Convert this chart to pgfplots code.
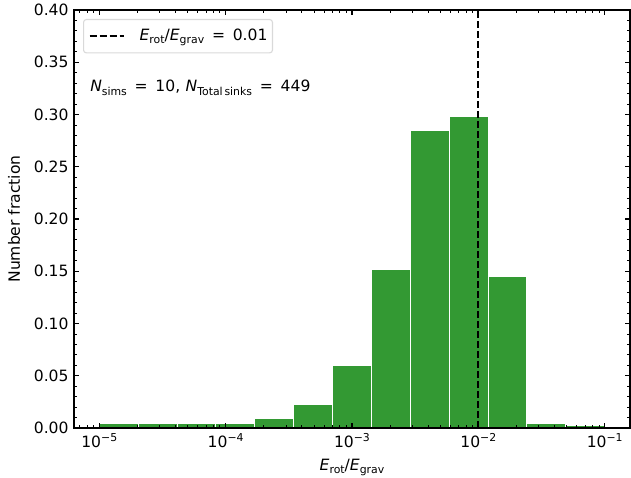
\documentclass[border=0pt]{standalone}
\usepackage{fontspec}
\setmainfont{DejaVu Sans}
\usepackage{pgfplots}
\pgfplotsset{compat=1.18}
\definecolor{barg}{RGB}{51,153,51}
\newcommand{\myfont}{\fontsize{11.2}{13.4}\selectfont}
\newcommand{\sub}[1]{\raisebox{-2.3pt}{\fontsize{7.84}{8}\selectfont #1}}
\newcommand{\sups}[1]{\raisebox{4.6pt}{\fontsize{7.84}{8}\selectfont #1}}
\newcommand{\eq}{\hspace{0.5em}=\hspace{0.5em}}
\pgfplotstableread{
x y
1.0e-5 0.004454
2.0309e-5 0.004454
4.1246e-5 0.004454
8.3768e-5 0.004454
1.7013e-4 0.008909
3.4551e-4 0.022272
7.0170e-4 0.060134
1.4251e-3 0.151448
2.8943e-3 0.285078
5.8780e-3 0.298441
1.1938e-2 0.144766
2.4245e-2 0.004454
4.9239e-2 0.002227
1.0e-1 0.002227
}\histdata
\begin{document}
\myfont
\begin{tikzpicture}
\begin{axis}[
  scale only axis, width=400.32pt, height=300.96pt,
  xmode=log, xmin=6.3096e-6, xmax=0.15849,
  ymin=0, ymax=0.4,
  axis on top,
  xtick={1e-5,1e-4,1e-3,1e-2,1e-1},
  xticklabels={10\sups{−5},10\sups{−4},10\sups{−3},10\sups{−2},10\sups{−1}},
  minor xtick={7e-6,8e-6,9e-6,2e-5,3e-5,4e-5,5e-5,6e-5,7e-5,8e-5,9e-5,2e-4,3e-4,4e-4,5e-4,6e-4,7e-4,8e-4,9e-4,2e-3,3e-3,4e-3,5e-3,6e-3,7e-3,8e-3,9e-3,2e-2,3e-2,4e-2,5e-2,6e-2,7e-2,8e-2,9e-2},
  ytick={0,0.05,0.1,0.15,0.2,0.25,0.3,0.35,0.4},
  minor y tick num=4,
  /pgf/number format/assume math mode=true,
  yticklabel style={/pgf/number format/.cd, fixed, fixed zerofill, precision=2},
  tick align=inside,
  xtick pos=both, ytick pos=both,
  xticklabel pos=lower, yticklabel pos=left,
  major tick length=3.5pt, minor tick length=2pt,
  every tick/.style={black, line width=0.8pt},
  minor tick style={line width=0.6pt},
  axis line style={line width=0.8pt},
  ticklabel style={font=\myfont},
  label style={font=\myfont},
  xlabel={\textit{E}\sub{rot}/\textit{E}\sub{grav}},
  ylabel={Number fraction},
  xlabel style={at={(axis description cs:0.5,-0.102)}, anchor=base},
  ylabel style={at={(axis description cs:-0.1079,0.5)}, anchor=center},
  legend style={at={(rel axis cs:0.0162,0.9785)}, anchor=north west, draw=black!15, rounded corners=2pt, line width=0.8pt, font=\myfont, inner xsep=3.6pt, inner ysep=5pt, nodes={inner xsep=0pt}, /tikz/every odd column/.append style={column sep=10.8pt}},
  legend cell align=left,
  legend image code/.code={\draw[#1] (0pt,0pt) -- (24.5pt,0pt);},
]
\addplot[ybar interval, fill=barg, draw=white, line width=0.7pt, forget plot] table[x=x, y=y] {\histdata};
\addplot[black, line width=1.5pt, dash pattern=on 5pt off 2.2pt] coordinates {(0.01,0) (0.01,0.4)};
\addlegendentry{\textit{E}\sub{rot}/\textit{E}\sub{grav}\eq 0.01\hspace{4.5pt}}
\node[anchor=base west, inner sep=0pt, font=\myfont] at (rel axis cs:0.0288,0.804) {\textit{N}\sub{sims}\eq 10,\hspace{0.35em}\textit{N}\sub{Total\,sinks}\eq 449};
\end{axis}
\pgfresetboundingbox
\path[use as bounding box] ([xshift=-53.28pt,yshift=-36pt]current axis.south west) rectangle ([xshift=0.72pt,yshift=7.2pt]current axis.north east);
\end{tikzpicture}
\end{document}
